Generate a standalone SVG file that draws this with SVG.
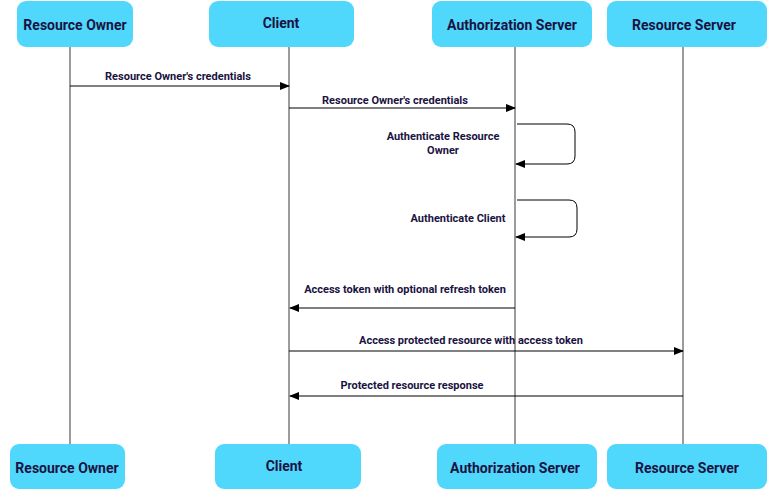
<svg xmlns="http://www.w3.org/2000/svg" width="776" height="490" viewBox="0 0 776 490">
<defs>
<style>
.box{fill:#50d8fc;}
.life{stroke:#9b9b9b;stroke-width:2;fill:none;}
.ttl{font-family:Roboto,"Liberation Sans",sans-serif;font-weight:bold;font-size:14px;fill:#1a1342;text-anchor:middle;}
.lbl{font-family:Roboto,"Liberation Sans",sans-serif;font-weight:bold;font-size:11px;fill:#1a1342;text-anchor:middle;}
.msg{stroke:#000;stroke-width:1;fill:none;marker-end:url(#ah);}
</style>
<marker id="ah" viewBox="0 0 10 10" refX="9" refY="5" markerWidth="10" markerHeight="10" markerUnits="userSpaceOnUse" orient="auto">
<path d="M0,1 L10,5 L0,9 Z" fill="#000"/>
</marker>
</defs>
<g id="lifelines">
<line class="life" x1="70" y1="46" x2="70" y2="444"/>
<line class="life" x1="289" y1="46" x2="289" y2="444"/>
<line class="life" x1="515" y1="46" x2="515" y2="444"/>
<line class="life" x1="683" y1="46" x2="683" y2="444"/>
</g>
<g id="ro-top"><rect class="box" x="17" y="1" width="116" height="46" rx="9"/><text class="ttl" x="75" y="30">Resource Owner</text></g>
<g id="client-top"><rect class="box" x="209" y="1" width="145" height="46" rx="9"/><text class="ttl" x="281" y="28">Client</text></g>
<g id="as-top"><rect class="box" x="432" y="1" width="160" height="46" rx="9"/><text class="ttl" x="512" y="30">Authorization Server</text></g>
<g id="rs-top"><rect class="box" x="607" y="1" width="160" height="46" rx="9"/><text class="ttl" x="684" y="30">Resource Server</text></g>
<g id="ro-bot"><rect class="box" x="10" y="444" width="115" height="45" rx="9"/><text class="ttl" x="67" y="473">Resource Owner</text></g>
<g id="client-bot"><rect class="box" x="215" y="444" width="146" height="45" rx="9"/><text class="ttl" x="284" y="471">Client</text></g>
<g id="as-bot"><rect class="box" x="437" y="444" width="160" height="45" rx="9"/><text class="ttl" x="515" y="473">Authorization Server</text></g>
<g id="rs-bot"><rect class="box" x="607" y="444" width="160" height="45" rx="9"/><text class="ttl" x="687" y="473">Resource Server</text></g>
<g id="connectors">
<path class="msg" d="M70,86 H289"/>
<text class="lbl" x="178" y="80">Resource Owner's credentials</text>
<path class="msg" d="M289,108 H515"/>
<text class="lbl" x="395" y="104">Resource Owner's credentials</text>
<path class="msg" d="M517,124 H567 Q575,124 575,132 V156 Q575,164 567,164 H516"/>
<text class="lbl" x="443" y="140">Authenticate Resource</text>
<text class="lbl" x="443" y="154">Owner</text>
<path class="msg" d="M517,200 H569 Q577,200 577,208 V229 Q577,237 569,237 H516"/>
<text class="lbl" x="458" y="222">Authenticate Client</text>
<path class="msg" d="M515,308 H290"/>
<text class="lbl" x="405" y="293">Access token with optional refresh token</text>
<path class="msg" d="M289,351 H683"/>
<text class="lbl" x="471" y="344">Access protected resource with access token</text>
<path class="msg" d="M683,396 H290"/>
<text class="lbl" x="412" y="389">Protected resource response</text>
</g>
</svg>
